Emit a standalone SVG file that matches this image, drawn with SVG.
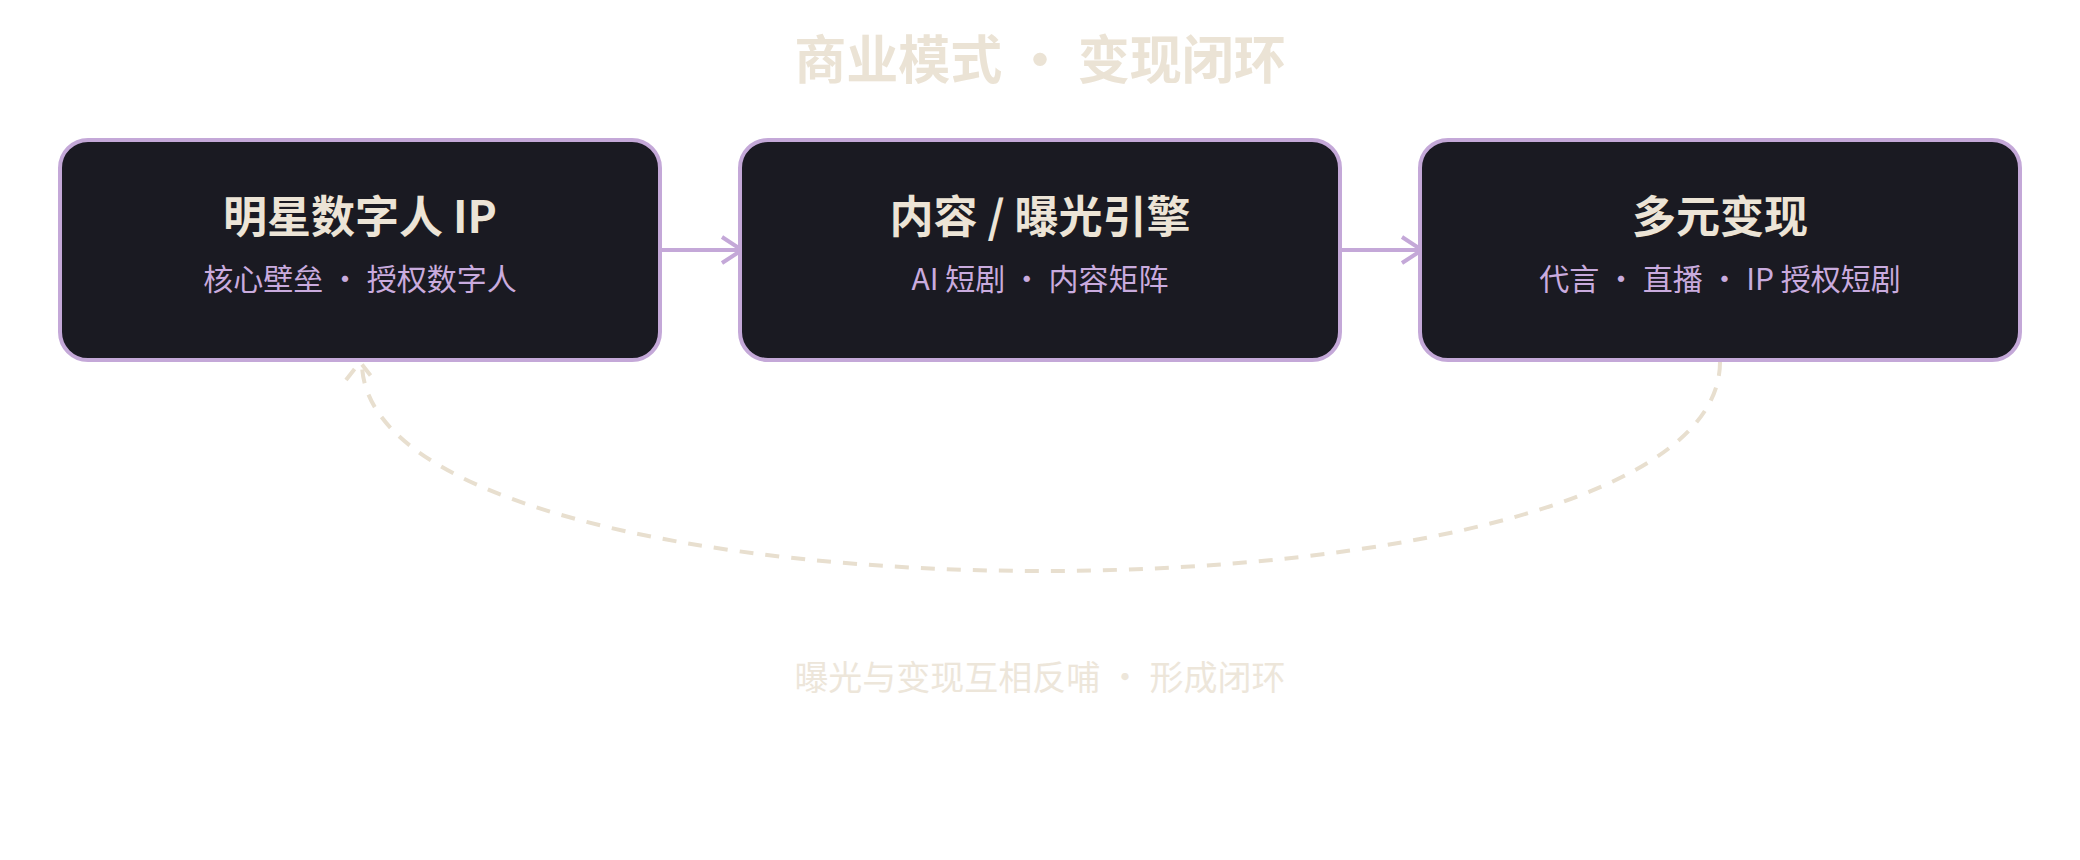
<svg xmlns="http://www.w3.org/2000/svg" width="2080" height="860" viewBox="0 0 2080 860">
  <defs>
    <style>
      .t { font-family: "Noto Sans CJK SC", "Noto Sans", sans-serif; text-anchor: middle; }
      .title { font-size: 52px; font-weight: 700; fill: #ebe3d5; }
      .box { fill: #1a1a22; stroke: #c4a8d8; stroke-width: 4; }
      .nt { font-size: 44px; font-weight: 700; fill: #ece4d6; }
      .ns { font-size: 30px; font-weight: 400; fill: #c9abde; }
      .flow { fill: none; stroke: #c4a8d8; stroke-width: 4; }
      .loop { fill: none; stroke: #e8dfcf; stroke-width: 4; stroke-dasharray: 14 12; }
      .foot { font-size: 34px; font-weight: 400; fill: #ede6da; }
    </style>
    <marker id="ah" viewBox="0 0 24 30" refX="22" refY="15" markerWidth="24" markerHeight="30" markerUnits="userSpaceOnUse" orient="auto">
      <path d="M2,2 L22,15 L2,28" fill="none" stroke="#c4a8d8" stroke-width="4"/>
    </marker>
  </defs>
  <rect width="2080" height="860" fill="#ffffff"/>
  <text class="t title" x="1040" y="79">商业模式 · 变现闭环</text>

  <g id="connectors">
    <path class="flow" d="M662,250 L742,250" marker-end="url(#ah)"/>
    <path class="flow" d="M1342,250 L1422,250" marker-end="url(#ah)"/>
    <path class="loop" d="M1720,362 C1720,640 375,640 362,366"/>
    <path class="loop" d="M346,380 L360,362 L374,380" stroke-dasharray="20 6 4 30"/>
  </g>

  <g id="node-ip">
    <rect class="box" x="60" y="140" width="600" height="220" rx="28"/>
    <text class="t nt" x="360" y="233">明星数字人 IP</text>
    <text class="t ns" x="360" y="290">核心壁垒 · 授权数字人</text>
  </g>
  <g id="node-content">
    <rect class="box" x="740" y="140" width="600" height="220" rx="28"/>
    <text class="t nt" x="1040" y="233">内容 / 曝光引擎</text>
    <text class="t ns" x="1040" y="290">AI 短剧 · 内容矩阵</text>
  </g>
  <g id="node-monetize">
    <rect class="box" x="1420" y="140" width="600" height="220" rx="28"/>
    <text class="t nt" x="1720" y="233">多元变现</text>
    <text class="t ns" x="1720" y="290">代言 · 直播 · IP 授权短剧</text>
  </g>

  <text class="t foot" x="1040" y="690">曝光与变现互相反哺 · 形成闭环</text>
</svg>
